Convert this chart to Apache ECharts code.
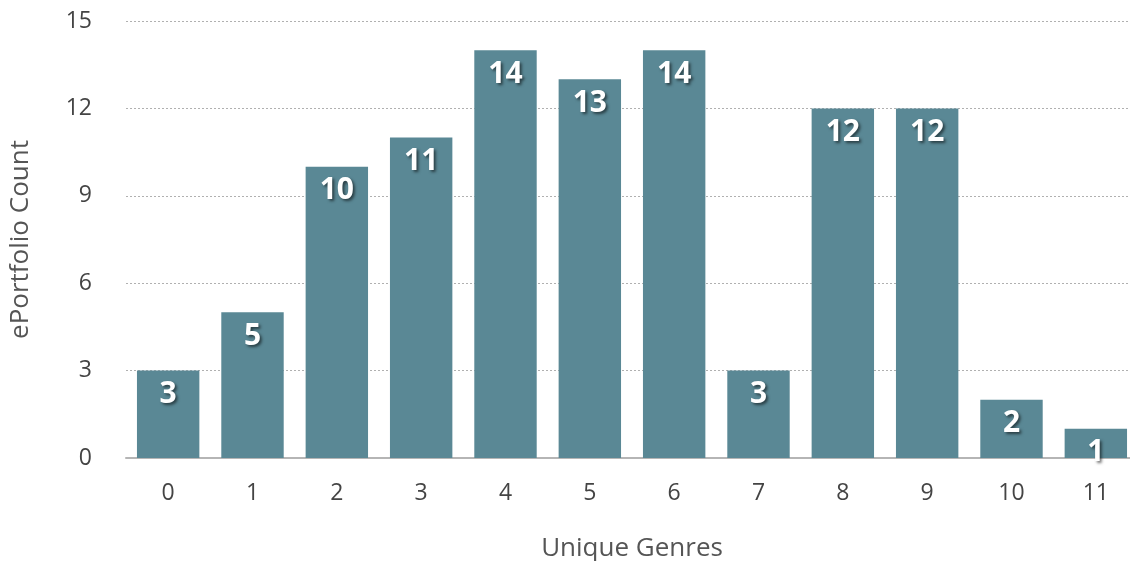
<!DOCTYPE html>
<html>
<head>
<meta charset="utf-8">
<script src="https://cdn.jsdelivr.net/npm/echarts@6/dist/echarts.min.js"></script>
<style>
  html, body { margin: 0; padding: 0; background: #fff; }
  #chart { width: 1130px; height: 561px; }
</style>
</head>
<body>
<div id="chart"></div>
<script>
const genres = ["0", "1", "2", "3", "4", "5", "6", "7", "8", "9", "10", "11"];
const counts = [3, 5, 10, 11, 14, 13, 14, 3, 12, 12, 2, 1];

const chart = echarts.init(document.getElementById("chart"));
const font = "Open Sans";

chart.setOption({
  animation: false,
  grid: { left: 126, right: -8, top: 21, bottom: 103, outerBoundsMode: "none" },
  xAxis: {
    type: "category",
    data: genres,
    name: "Unique Genres",
    nameLocation: "middle",
    nameGap: 78,
    nameTextStyle: { fontFamily: font, fontSize: 26, color: "#555" },
    axisLine: { lineStyle: { color: "#b5b5b5", width: 2 } },
    axisTick: { show: false },
    axisLabel: { fontFamily: font, fontSize: 23, color: "#444", margin: 24 }
  },
  yAxis: {
    type: "value",
    min: 0,
    max: 15,
    interval: 3,
    name: "ePortfolio Count",
    nameLocation: "middle",
    nameGap: 92,
    nameTextStyle: { fontFamily: font, fontSize: 26, color: "#555" },
    axisLine: { show: false },
    axisTick: { show: false },
    axisLabel: { fontFamily: font, fontSize: 23, color: "#444", margin: 34 },
    splitLine: { lineStyle: { color: "#b0b0b0", type: [2, 2], width: 1 } }
  },
  series: [{
    type: "bar",
    data: counts,
    barCategoryGap: "26%",
    itemStyle: { color: "#5a8895" },
    label: {
      show: true,
      position: "insideTop",
      distance: 9,
      fontFamily: font,
      fontWeight: "bold",
      fontSize: 30,
      color: "#fff",
      textShadowColor: "rgba(0,0,0,0.55)",
      textShadowBlur: 3,
      textShadowOffsetX: 2,
      textShadowOffsetY: 2
    }
  }]
});
</script>
</body>
</html>
